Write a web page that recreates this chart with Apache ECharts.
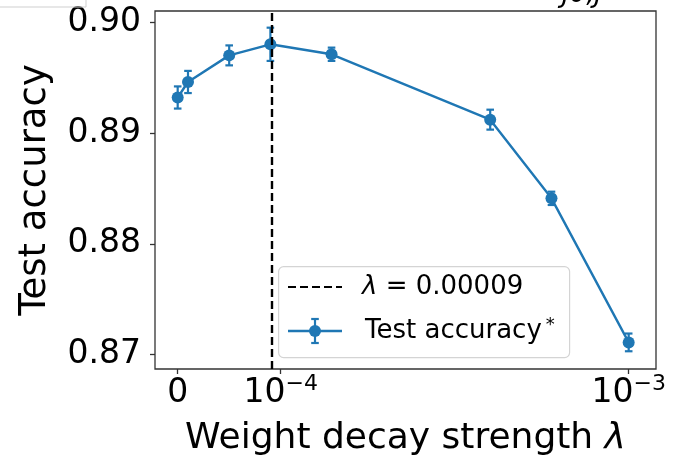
<!DOCTYPE html>
<html>
<head>
<meta charset="utf-8">
<script src="https://cdn.jsdelivr.net/npm/echarts@6/dist/echarts.min.js"></script>
<style>
  html, body { margin: 0; padding: 0; background: #fff; }
  #chart { width: 680px; height: 462px; }
</style>
</head>
<body>
<div id="chart"></div>
<script>
// Weight decay sweep: test accuracy (mean ± std) per regularisation strength
const lambdas  = [0, 1e-5, 5e-5, 9e-5, 1.4e-4, 4e-4, 6e-4, 1e-3];
const accuracy = [0.8932, 0.8946, 0.8970, 0.8980, 0.8971, 0.8912, 0.8841, 0.8711];
const accErr   = [0.0010, 0.0010, 0.0009, 0.0015, 0.0006, 0.0009, 0.0006, 0.0008];
const bestLambda = 0.00009;

const xTickValues = [0, 1e-4, 1e-3];
const xTickLabels = ['{b|0}', '{b|10}{s|−4}', '{b|10}{s|−3}'];
const yTickValues = [0.87, 0.88, 0.89, 0.90];

// symmetric-log style axis: linear between 0 and 1e-4, logarithmic above
const LIN_THRESH = 1e-4;
const LIN_WIDTH = 0.296; // width of the linear part, in decades
function symlog(v) {
  return v <= LIN_THRESH ? LIN_WIDTH * v / LIN_THRESH
                         : LIN_WIDTH + Math.log10(v / LIN_THRESH);
}

const BLUE = '#1f77b4';
const FONT = 'DejaVu Sans';
const pts = lambdas.map((l, i) => [symlog(l), accuracy[i], accErr[i]]);
const xTicksU = xTickValues.map(symlog);

const chart = echarts.init(document.getElementById('chart'), null, { renderer: 'canvas' });

chart.setOption({
  animation: false,
  backgroundColor: '#fff',
  textStyle: { fontFamily: FONT },
  grid: {
    left: 155, right: 24, top: 11, bottom: 91,
    show: true, borderColor: '#333', borderWidth: 1.3, backgroundColor: 'transparent'
  },
  xAxis: {
    type: 'value',
    min: -0.0652, max: 1.3745,
    name: 'Weight decay strength {i|λ}',
    nameLocation: 'middle',
    nameGap: 52,
    nameTextStyle: {
      fontFamily: FONT, fontSize: 36, color: '#000',
      rich: { i: { fontFamily: FONT, fontStyle: 'italic', fontSize: 36, color: '#000' } }
    },
    axisLine: { show: false, onZero: false },
    splitLine: { show: false },
    axisTick: {
      show: true, inside: false, length: 5,
      customValues: xTicksU,
      lineStyle: { color: '#333', width: 1.3 }
    },
    axisLabel: {
      customValues: xTicksU,
      margin: 4,
      formatter: function (v) {
        for (let i = 0; i < xTicksU.length; i++) {
          if (Math.abs(v - xTicksU[i]) < 1e-6) return xTickLabels[i];
        }
        return '';
      },
      rich: {
        b: { fontFamily: FONT, fontSize: 33, color: '#000', lineHeight: 40 },
        s: { fontFamily: FONT, fontSize: 22, color: '#000', lineHeight: 40, verticalAlign: 'top' }
      }
    }
  },
  yAxis: {
    type: 'value',
    min: 0.868699, max: 0.901005,
    name: 'Test accuracy',
    nameLocation: 'middle',
    nameGap: 101,
    nameTextStyle: { fontFamily: FONT, fontSize: 37, color: '#000' },
    axisLine: { show: false, onZero: false },
    splitLine: { show: false },
    axisTick: {
      show: true, inside: false, length: 5,
      customValues: yTickValues,
      lineStyle: { color: '#333', width: 1.3 }
    },
    axisLabel: {
      customValues: yTickValues,
      margin: 14,
      fontFamily: FONT, fontSize: 33, color: '#000',
      formatter: v => v.toFixed(2)
    }
  },
  series: [
    {
      // vertical reference line at the selected λ
      type: 'line',
      data: [],
      z: 1,
      markLine: {
        silent: true,
        symbol: ['none', 'none'],
        label: { show: false },
        lineStyle: { color: '#000', width: 2.4, type: [8, 4] },
        data: [{ xAxis: symlog(bestLambda) }]
      }
    },
    {
      type: 'custom',
      z: 2,
      data: pts,
      renderItem: function (params, api) {
        const x = api.value(0), y = api.value(1), e = api.value(2);
        const t = api.coord([x, y + e]);
        const b = api.coord([x, y - e]);
        const hw = 3.8;
        const st = { stroke: BLUE, lineWidth: 2.2 };
        return {
          type: 'group',
          children: [
            { type: 'line', shape: { x1: t[0], y1: t[1], x2: b[0], y2: b[1] }, style: st },
            { type: 'line', shape: { x1: t[0] - hw, y1: t[1], x2: t[0] + hw, y2: t[1] }, style: st },
            { type: 'line', shape: { x1: b[0] - hw, y1: b[1], x2: b[0] + hw, y2: b[1] }, style: st }
          ]
        };
      }
    },
    {
      type: 'line',
      z: 3,
      data: pts.map(p => [p[0], p[1]]),
      symbol: 'circle',
      symbolSize: 12,
      showSymbol: true,
      itemStyle: { color: BLUE },
      lineStyle: { color: BLUE, width: 2.4 }
    }
  ],
  graphic: [
    // legend box
    {
      type: 'rect', left: 278, top: 266, z: 10,
      shape: { width: 291, height: 91, r: 5 },
      style: { fill: 'rgba(255,255,255,0.85)', stroke: '#d4d4d4', lineWidth: 1.2 }
    },
    {
      type: 'line', z: 11,
      shape: { x1: 288, y1: 287, x2: 342, y2: 287 },
      style: { stroke: '#000', lineWidth: 2.2, lineDash: [8, 4] }
    },
    {
      type: 'text', x: 362, y: 287, z: 11,
      style: {
        text: '{i|λ} = 0.00009',
        fontFamily: FONT, fontSize: 26, fill: '#000',
        verticalAlign: 'middle', align: 'left',
        rich: { i: { fontFamily: FONT, fontStyle: 'italic', fontSize: 26, fill: '#000' } }
      }
    },
    {
      type: 'line', z: 11,
      shape: { x1: 288, y1: 331, x2: 342, y2: 331 },
      style: { stroke: BLUE, lineWidth: 2.4 }
    },
    {
      type: 'line', z: 11,
      shape: { x1: 315, y1: 319, x2: 315, y2: 343 },
      style: { stroke: BLUE, lineWidth: 2.2 }
    },
    {
      type: 'line', z: 11,
      shape: { x1: 311.2, y1: 319, x2: 318.8, y2: 319 },
      style: { stroke: BLUE, lineWidth: 2.2 }
    },
    {
      type: 'line', z: 11,
      shape: { x1: 311.2, y1: 343, x2: 318.8, y2: 343 },
      style: { stroke: BLUE, lineWidth: 2.2 }
    },
    {
      type: 'circle', z: 11,
      shape: { cx: 315, cy: 331, r: 6 },
      style: { fill: BLUE }
    },
    {
      type: 'text', x: 365, y: 331, z: 11,
      style: {
        text: '{n|Test accuracy}{s|*}',
        fontFamily: FONT, fontSize: 26, fill: '#000',
        verticalAlign: 'middle', align: 'left',
        rich: {
          n: { fontFamily: FONT, fontSize: 26, fill: '#000', lineHeight: 30 },
          s: { fontFamily: FONT, fontSize: 18, fill: '#000', lineHeight: 30, verticalAlign: 'top', padding: [0, 0, 0, 4] }
        }
      }
    },
    // clipped heading above the frame
    {
      type: 'text', x: 582, y: 8, z: 11,
      style: {
        text: 'J0,J', fontFamily: FONT, fontStyle: 'italic', fontSize: 26, fill: '#000',
        align: 'center', verticalAlign: 'bottom'
      }
    },
    {
      type: 'polyline', z: 11,
      shape: { points: [[0, 7], [86, 7], [86, 0]] },
      style: { stroke: '#cfcfcf', lineWidth: 1, fill: null }
    }
  ]
});
</script>
</body>
</html>
